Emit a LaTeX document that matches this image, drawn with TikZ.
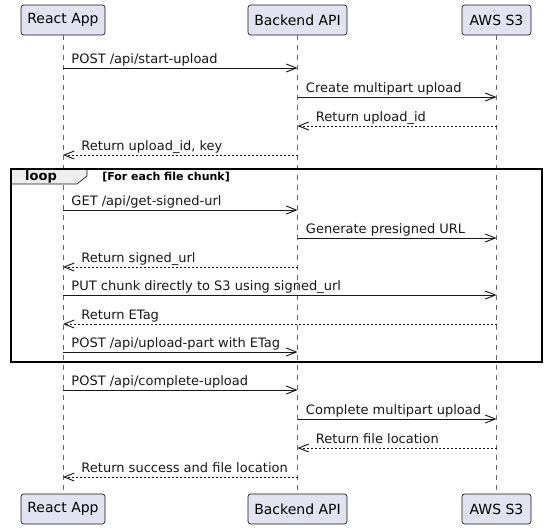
\documentclass[tikz,border=0pt]{standalone}
\usepackage{fontspec}
\setmainfont{DejaVu Sans}
\usetikzlibrary{arrows.meta}
\definecolor{partfill}{HTML}{E2E2F0}
\definecolor{ink}{HTML}{181818}
\definecolor{tabfill}{HTML}{EEEEEE}
\tikzset{
  part/.style={draw=ink, fill=partfill, rounded corners=2pt, line width=0.5pt,
    minimum height=22.5pt, inner sep=0pt, font=\fontsize{10.5}{12}\selectfont},
  life/.style={ink!65, line width=0.5pt, dash pattern=on 3.75pt off 3.75pt},
  call/.style={ink, line width=0.7pt, -{Straight Barb[length=7.5pt,width=6pt]}},
  reply/.style={call, dash pattern=on 1.5pt off 1.5pt},
  msglab/.style={font=\fontsize{9.75}{11}\selectfont, inner sep=0pt},
}
\begin{document}
\begin{tikzpicture}[x=0.75pt, y=-0.75pt]
\useasboundingbox (0,0) rectangle (546,529);
% participants, top and bottom
\node[part, minimum width=63pt] (app) at (63,20) {React App};
\node[part, minimum width=74.25pt] (api) at (297.5,20) {Backend API};
\node[part, minimum width=51.75pt] (s3) at (496.5,20) {AWS S3};
\node[part, minimum width=63pt] (appB) at (63,509) {React App};
\node[part, minimum width=74.25pt] (apiB) at (297.5,509) {Backend API};
\node[part, minimum width=51.75pt] (s3B) at (496.5,509) {AWS S3};
% lifelines
\draw[life] (app) -- (appB);
\draw[life] (api) -- (apiB);
\draw[life] (s3) -- (s3B);
% loop frame
\draw[ink, line width=0.5pt, fill=tabfill] (11,169) -- (87,169) -- (87,176) -- (77,184) -- (11,184) -- cycle;
\draw[black, line width=1.1pt] (11,169) rectangle (542,362);
\node[font=\bfseries\fontsize{9.75}{11}\selectfont, inner sep=0pt] (looplab) at (41,177) {loop};
\node[font=\bfseries\fontsize{8.25}{10}\selectfont, inner sep=0pt, anchor=west] (guard) at (102,177) {[For each file chunk]};
% requests (left to right)
\foreach \y/\a/\b/\txt in {68/app/api/{POST /api/start-upload},
    97/api/s3/{Create multipart upload},
    210/app/api/{GET /api/get-signed-url},
    238/api/s3/{Generate presigned URL},
    295/app/s3/{PUT chunk directly to S3 using signed\_url},
    352/app/api/{POST /api/upload-part with ETag},
    390/app/api/{POST /api/complete-upload},
    419/api/s3/{Complete multipart upload}} {
  \draw[call] (\a |- 0,\y) -- (\b |- 0,\y)
    node[msglab, pos=0, anchor=base west, xshift=6pt, yshift=3.75pt] {\txt};
}
% replies (right to left)
\foreach \y/\a/\b/\txt in {126/s3/api/{Return upload\_id},
    155/api/app/{Return upload\_id, key},
    267/api/app/{Return signed\_url},
    324/s3/app/{Return ETag},
    448/s3/api/{Return file location},
    477/api/app/{Return success and file location}} {
  \draw[reply] (\a |- 0,\y) -- (\b |- 0,\y)
    node[msglab, pos=1, anchor=base west, xshift=13.5pt, yshift=3.75pt] {\txt};
}
\end{tikzpicture}
\end{document}
